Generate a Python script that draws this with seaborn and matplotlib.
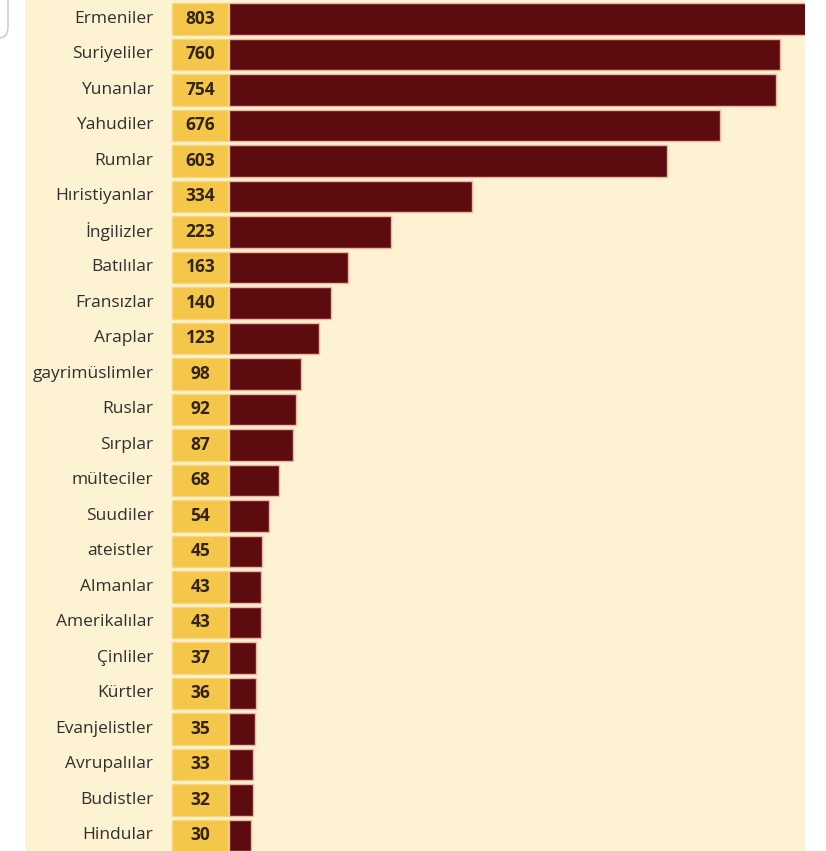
import matplotlib
matplotlib.use("Agg")
import matplotlib.pyplot as plt
from matplotlib.patches import FancyBboxPatch
import seaborn as sns
import pandas as pd

groups = ["Ermeniler", "Suriyeliler", "Yunanlar", "Yahudiler", "Rumlar",
          "Hıristiyanlar", "İngilizler", "Batılılar", "Fransızlar", "Araplar",
          "gayrimüslimler", "Ruslar", "Sırplar", "mülteciler", "Suudiler",
          "ateistler", "Almanlar", "Amerikalılar", "Çinliler", "Kürtler",
          "Evanjelistler", "Avrupalılar", "Budistler", "Hindular"]
counts = [803, 760, 754, 676, 603, 334, 223, 163, 140, 123,
          98, 92, 87, 68, 54, 45, 43, 43, 37, 36, 35, 33, 32, 30]

df = pd.DataFrame({"group": groups, "count": counts})

CREAM = "#fdf3d2"
YELLOW = "#f4c64a"
MAROON = "#5c0c0f"
EDGE = "#f3b3a3"
TEXT = "#2f2f2f"

sns.set_style("white")
plt.rcParams["font.family"] = ["Open Sans", "DejaVu Sans"]

fig = plt.figure(figsize=(8.26, 8.51), dpi=100)
fig.set_facecolor("white")
ax = fig.add_axes([25 / 826, 0, 780 / 826, 1])
ax.set_facecolor(CREAM)

n = len(groups)
BAR_H = 0.89

# yellow boxes behind the numbers
ax.barh(range(n), width=77, left=-78.6, height=BAR_H, color=YELLOW,
        edgecolor="#f8d878", linewidth=1, zorder=1)

sns.barplot(data=df, x="count", y="group", orient="h", color=MAROON,
            width=BAR_H, edgecolor=EDGE, linewidth=1, saturation=1, ax=ax,
            zorder=2)

for i, (g, c) in enumerate(zip(groups, counts)):
    ax.text(-105, i, g, ha="right", va="center", fontsize=12.5, color=TEXT)
    ax.text(-40, i, str(c), ha="center", va="center", fontsize=12.5,
            fontweight="bold", color="#33240f")

ax.set_xlim(-282, 793.8)
ax.set_ylim(23.437, -0.535)
ax.set_xlabel("")
ax.set_ylabel("")
ax.set_xticks([])
ax.set_yticks([])
for s in ax.spines.values():
    s.set_visible(False)

# corner of a card peeking in at the top left
fig.patches.append(FancyBboxPatch((-200 / 826, 1 - 38 / 851), 208 / 826, 300 / 851,
                                  boxstyle="round,pad=0,rounding_size=0.012",
                                  transform=fig.transFigure, facecolor="white",
                                  edgecolor="#c8c8c8", linewidth=1))

fig.savefig("out.png", dpi=100, facecolor=fig.get_facecolor())
